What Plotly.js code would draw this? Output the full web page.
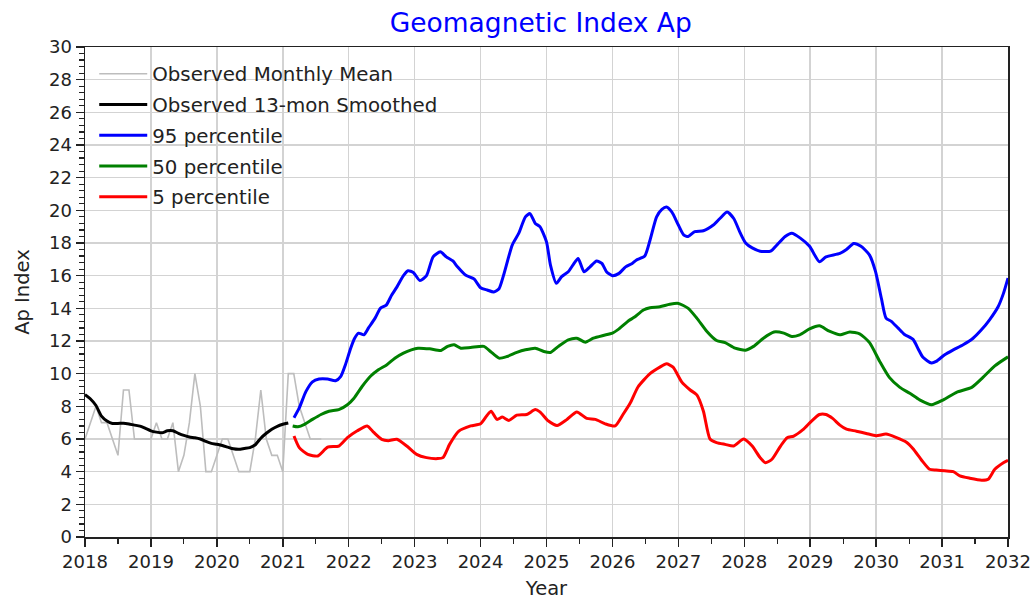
<!DOCTYPE html>
<html>
<head>
<meta charset="utf-8">
<script src="https://cdn.plot.ly/plotly-3.0.1.min.js"></script>
<style>html,body{margin:0;padding:0;background:#fff;}#chart{width:1034px;height:601px;}</style>
</head>
<body>
<div id="chart"></div>
<script>
// Observed monthly mean Ap (monthly, starting Jan 2018)
const obsStartYear = 2018;
const obsMonthly = [6,7,8,7,7,6,5,9,9,6,6,6,
                    6,7,6,6,7,4,5,7,10,8,4,4,
                    5,6,6,5,4,4,4,6,9,6,5,5,
                    4,10,10,8,7,6,6,6];
// Observed 13-month smoothed (monthly, starting Jan 2018)
const obsSmoothed = [8.72,8.45,8.05,7.4,7.1,6.95,6.95,6.97,6.92,6.85,6.79,6.65,
                     6.5,6.42,6.38,6.5,6.5,6.35,6.22,6.12,6.08,6.0,5.85,5.73,
                     5.68,5.6,5.5,5.4,5.37,5.42,5.47,5.65,6.05,6.35,6.6,6.78,
                     6.9,6.98];

// 95 percentile forecast
const p95Years = [2021.17,2021.25,2021.35,2021.45,2021.55,2021.68,2021.80,2021.88,2021.95,2022.03,2022.09,2022.15,2022.23,2022.30,2022.40,2022.48,2022.57,2022.65,2022.73,2022.83,2022.90,2022.98,2023.08,2023.18,2023.28,2023.39,2023.48,2023.58,2023.65,2023.77,2023.90,2024.00,2024.10,2024.20,2024.28,2024.35,2024.48,2024.58,2024.68,2024.75,2024.83,2024.90,2025.00,2025.06,2025.15,2025.23,2025.33,2025.40,2025.48,2025.57,2025.66,2025.76,2025.84,2025.91,2026.00,2026.10,2026.20,2026.30,2026.36,2026.49,2026.57,2026.67,2026.75,2026.82,2026.90,2027.00,2027.08,2027.15,2027.25,2027.38,2027.53,2027.63,2027.74,2027.84,2027.94,2028.02,2028.12,2028.24,2028.40,2028.50,2028.62,2028.72,2028.85,2028.99,2029.14,2029.24,2029.45,2029.55,2029.66,2029.77,2029.90,2029.99,2030.08,2030.15,2030.23,2030.33,2030.43,2030.56,2030.64,2030.71,2030.84,2030.91,2031.04,2031.17,2031.32,2031.47,2031.60,2031.72,2031.85,2031.93,2032.00];
const p95Values = [7.3,7.9,8.9,9.5,9.67,9.67,9.57,9.84,10.55,11.56,12.17,12.48,12.38,12.8,13.4,14.0,14.2,14.8,15.3,16.0,16.3,16.2,15.7,16.0,17.15,17.46,17.15,16.9,16.54,16.04,15.8,15.26,15.12,15.0,15.2,16.04,17.87,18.6,19.6,19.8,19.2,19.0,18.07,16.65,15.53,15.94,16.24,16.65,17.05,16.24,16.54,16.9,16.75,16.24,16.0,16.14,16.54,16.75,16.95,17.2,18.17,19.6,20.06,20.2,19.9,19.1,18.5,18.4,18.7,18.75,19.1,19.5,19.9,19.5,18.6,18.0,17.7,17.5,17.5,17.9,18.4,18.6,18.3,17.8,16.85,17.15,17.36,17.6,17.97,17.8,17.26,16.26,14.6,13.4,13.2,12.8,12.4,12.1,11.5,11.0,10.65,10.75,11.16,11.46,11.77,12.17,12.7,13.3,14.1,14.9,15.85];

// 50 percentile forecast
const p50Years = [2021.15,2021.23,2021.33,2021.45,2021.58,2021.70,2021.85,2021.98,2022.08,2022.20,2022.33,2022.45,2022.58,2022.70,2022.83,2022.95,2023.05,2023.23,2023.40,2023.50,2023.60,2023.70,2023.85,2024.05,2024.15,2024.28,2024.40,2024.55,2024.68,2024.83,2024.96,2025.06,2025.18,2025.33,2025.46,2025.59,2025.71,2025.86,2026.00,2026.10,2026.25,2026.33,2026.47,2026.57,2026.72,2026.87,2027.00,2027.15,2027.28,2027.43,2027.58,2027.71,2027.86,2028.02,2028.14,2028.29,2028.45,2028.60,2028.72,2028.84,2028.99,2029.14,2029.29,2029.45,2029.60,2029.75,2029.90,2030.05,2030.20,2030.36,2030.51,2030.66,2030.84,2031.02,2031.22,2031.45,2031.62,2031.80,2032.00];
const p50Values = [6.8,6.75,6.9,7.2,7.5,7.7,7.8,8.1,8.5,9.2,9.84,10.24,10.55,10.95,11.26,11.46,11.56,11.52,11.42,11.67,11.77,11.56,11.6,11.67,11.36,10.95,11.05,11.3,11.46,11.56,11.36,11.3,11.67,12.07,12.17,11.93,12.17,12.34,12.48,12.74,13.25,13.45,13.9,14.04,14.1,14.25,14.3,14.0,13.4,12.6,12.03,11.9,11.56,11.44,11.67,12.17,12.55,12.48,12.28,12.38,12.74,12.93,12.6,12.38,12.55,12.44,11.9,10.78,9.77,9.16,8.8,8.4,8.1,8.4,8.86,9.16,9.77,10.48,11.03];

// 5 percentile forecast
const p5Years = [2021.17,2021.25,2021.38,2021.53,2021.68,2021.85,2021.98,2022.13,2022.28,2022.38,2022.50,2022.60,2022.73,2022.88,2023.03,2023.18,2023.35,2023.43,2023.53,2023.67,2023.85,2024.00,2024.10,2024.16,2024.25,2024.33,2024.43,2024.55,2024.70,2024.83,2024.90,2025.03,2025.16,2025.31,2025.46,2025.61,2025.74,2025.89,2026.04,2026.16,2026.27,2026.39,2026.57,2026.72,2026.82,2026.92,2027.05,2027.18,2027.28,2027.38,2027.48,2027.58,2027.71,2027.84,2027.99,2028.12,2028.24,2028.32,2028.42,2028.55,2028.65,2028.75,2028.89,2029.02,2029.14,2029.24,2029.34,2029.45,2029.55,2029.70,2029.85,2030.00,2030.15,2030.30,2030.46,2030.56,2030.69,2030.81,2030.91,2031.04,2031.17,2031.27,2031.42,2031.60,2031.70,2031.80,2031.93,2032.00];
const p5Values = [6.18,5.47,5.06,4.96,5.5,5.57,6.08,6.5,6.8,6.4,5.98,5.9,5.98,5.57,5.06,4.86,4.8,4.86,5.67,6.48,6.8,6.93,7.46,7.7,7.2,7.34,7.14,7.46,7.5,7.8,7.66,7.1,6.83,7.2,7.66,7.26,7.2,6.93,6.8,7.5,8.2,9.2,10.0,10.4,10.6,10.4,9.5,9.0,8.7,7.7,6.0,5.78,5.67,5.57,6.0,5.57,4.86,4.55,4.76,5.57,6.08,6.18,6.57,7.1,7.5,7.5,7.26,6.85,6.6,6.48,6.34,6.2,6.3,6.1,5.8,5.4,4.7,4.15,4.1,4.05,4.0,3.74,3.6,3.48,3.54,4.15,4.55,4.7];

const seriesNames = ['Observed Monthly Mean','Observed 13-mon Smoothed','95 percentile','50 percentile','5 percentile'];
const xTickVals = [2018,2019,2020,2021,2022,2023,2024,2025,2026,2027,2028,2029,2030,2031,2032];

const obsYearsMonthly = obsMonthly.map((_, i) => obsStartYear + i / 12);
const obsYearsSmoothed = obsSmoothed.map((_, i) => obsStartYear + i / 12);

const FONT = 'DejaVu Sans, Verdana, sans-serif';

const traces = [
  {x: obsYearsMonthly, y: obsMonthly, name: seriesNames[0], mode: 'lines', line: {color: '#bdbdbd', width: 1.6}, legendgroup: 'a'},
  {x: obsYearsSmoothed, y: obsSmoothed, name: seriesNames[1], mode: 'lines', line: {color: '#000000', width: 3, shape: 'spline', smoothing: 0.6}, legendgroup: 'b'},
  {x: p95Years, y: p95Values, name: seriesNames[2], mode: 'lines', line: {color: '#0000ff', width: 3, shape: 'spline', smoothing: 0.6}, legendgroup: 'c'},
  {x: p50Years, y: p50Values, name: seriesNames[3], mode: 'lines', line: {color: '#008000', width: 3, shape: 'spline', smoothing: 0.6}, legendgroup: 'd'},
  {x: p5Years, y: p5Values, name: seriesNames[4], mode: 'lines', line: {color: '#ff0000', width: 3, shape: 'spline', smoothing: 0.6}, legendgroup: 'e'}
];

const layout = {
  width: 1034, height: 601,
  margin: {l: 85, r: 26, t: 47, b: 64, pad: 0},
  paper_bgcolor: '#ffffff', plot_bgcolor: '#ffffff',
  font: {family: FONT, color: '#222222', size: 18},
  title: {text: 'Geomagnetic Index Ap', font: {family: FONT, size: 26.5, color: '#0000ff'}, x: 0.523, xanchor: 'center', y: 0.963, yanchor: 'middle'},
  showlegend: true,
  legend: {x: 0.01, y: 0.985, xanchor: 'left', yanchor: 'top', bgcolor: 'rgba(255,255,255,0)', borderwidth: 0,
           font: {family: FONT, size: 19.8, color: '#222222'}, traceorder: 'grouped', tracegroupgap: 2, itemwidth: 48},
  xaxis: {
    range: [2018, 2032], tickvals: xTickVals, ticktext: xTickVals.map(String),
    showgrid: true, gridcolor: '#d3d3d3', gridwidth: 1.5,
    showline: true, linecolor: '#222222', linewidth: 1.5, mirror: true,
    ticks: 'outside', ticklen: 8, tickwidth: 1.5, tickcolor: '#222222',
    minor: {dtick: 0.5, tick0: 2018, ticks: 'outside', ticklen: 5, tickwidth: 1.2, tickcolor: '#222222', showgrid: false},
    tickfont: {family: FONT, size: 18, color: '#222222'},
    title: {text: 'Year', font: {family: FONT, size: 19.5, color: '#222222'}, standoff: 10},
    zeroline: false
  },
  yaxis: {
    range: [0, 30], dtick: 2, tick0: 0,
    showgrid: true, gridcolor: '#d3d3d3', gridwidth: 1.5,
    showline: true, linecolor: '#222222', linewidth: 1.5, mirror: true,
    ticks: 'outside', ticklen: 8, tickwidth: 1.5, tickcolor: '#222222',
    minor: {dtick: 0.4, tick0: 0, ticks: 'outside', ticklen: 5, tickwidth: 1.2, tickcolor: '#222222', showgrid: false},
    tickfont: {family: FONT, size: 18, color: '#222222'},
    title: {text: 'Ap Index', font: {family: FONT, size: 19.5, color: '#222222'}, standoff: 14},
    zeroline: false
  }
};

Plotly.newPlot('chart', traces, layout, {displayModeBar: false, staticPlot: true});
</script>
</body>
</html>
